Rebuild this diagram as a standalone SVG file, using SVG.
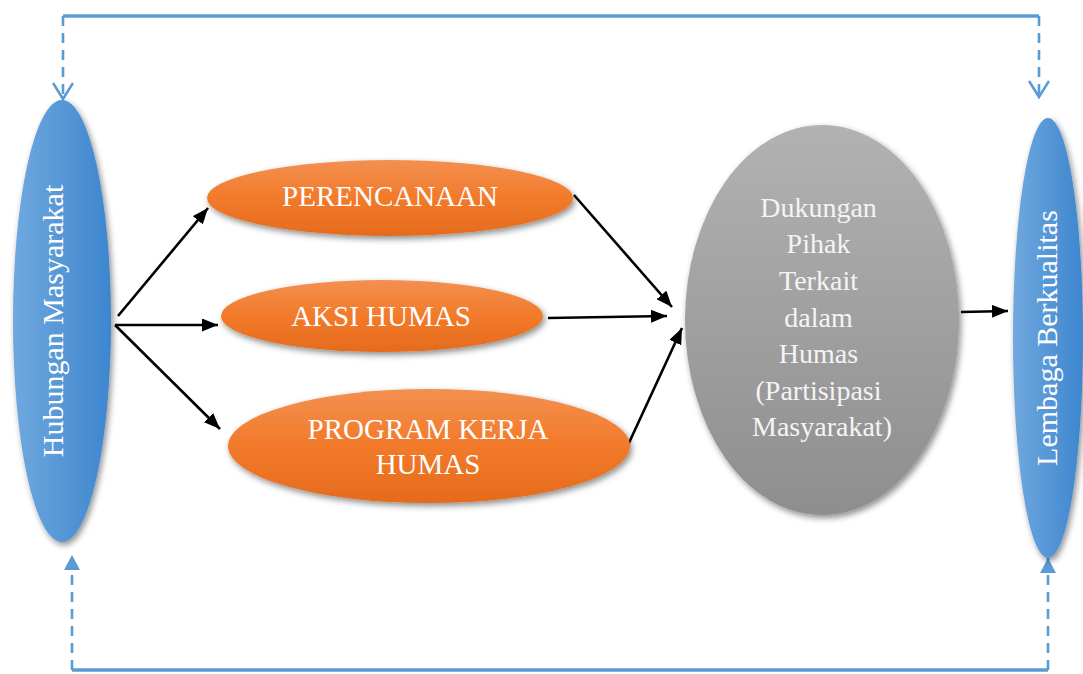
<svg xmlns="http://www.w3.org/2000/svg" width="1083" height="674" viewBox="0 0 1083 674">
<defs>
<style>
.lbl{font-family:"Liberation Serif","Times New Roman",serif;fill:#ffffff;}
.o{font-size:29px;}
.g{font-size:28px;fill:#f4f4f4;}
.v{font-size:30px;}
.arr{stroke:#000;stroke-width:2.6;fill:none;}
.bl{stroke:#5b9bd5;stroke-width:3.5;fill:none;}
.bd{stroke:#5b9bd5;stroke-width:2.6;fill:none;stroke-dasharray:10,7;}
</style>
<linearGradient id="gBlue" x1="0" y1="0" x2="1" y2="0">
<stop offset="0" stop-color="#70a8de"/>
<stop offset="1" stop-color="#3d86cf"/>
</linearGradient>
<linearGradient id="gOrange" x1="0" y1="0" x2="0" y2="1">
<stop offset="0" stop-color="#f39050"/>
<stop offset="0.5" stop-color="#f27a2a"/>
<stop offset="1" stop-color="#e56b1d"/>
</linearGradient>
<linearGradient id="gGray" x1="0" y1="0" x2="0" y2="1">
<stop offset="0" stop-color="#b2b2b2"/>
<stop offset="1" stop-color="#8e8e8e"/>
</linearGradient>
<filter id="sh" x="-20%" y="-20%" width="140%" height="140%">
<feDropShadow dx="2" dy="3" stdDeviation="3" flood-color="#000" flood-opacity="0.45"/>
</filter>
<marker id="ah" markerWidth="16" markerHeight="13" refX="16" refY="6.5" orient="auto" markerUnits="userSpaceOnUse">
<path d="M0,0 L16,6.5 L0,13 Z" fill="#000"/>
</marker>
<marker id="open" markerWidth="20" markerHeight="22" refX="18" refY="11" orient="auto" markerUnits="userSpaceOnUse">
<path d="M2,1 L18,11 L2,21" fill="none" stroke="#5b9bd5" stroke-width="2.6"/>
</marker>
<marker id="fill" markerWidth="15" markerHeight="16" refX="15" refY="8" orient="auto" markerUnits="userSpaceOnUse">
<path d="M0,0 L15,8 L0,16 Z" fill="#5b9bd5"/>
</marker>
</defs>
<rect width="1083" height="674" fill="#fff"/>

<g id="connectors">
<path class="bl" d="M63,16 L1039,16"/>
<path class="bd" d="M63,16 L63,99" marker-end="url(#open)"/>
<path class="bd" d="M1039,16 L1039,97" marker-end="url(#open)"/>
<path class="bl" d="M72,670 L1048,670"/>
<path class="bd" d="M72,670 L72,555" marker-end="url(#fill)"/>
<path class="bd" d="M1048,670 L1048,558" marker-end="url(#fill)"/>
<path class="arr" d="M118,316 L208,208" marker-end="url(#ah)"/>
<path class="arr" d="M115,325 L218,325" marker-end="url(#ah)"/>
<path class="arr" d="M115,325 L220,429" marker-end="url(#ah)"/>
<path class="arr" d="M574,195 L672,307" marker-end="url(#ah)"/>
<path class="arr" d="M548,318 L667,316" marker-end="url(#ah)"/>
<path class="arr" d="M628,445 L682,328" marker-end="url(#ah)"/>
<path class="arr" d="M961,312 L1008,311" marker-end="url(#ah)"/>
</g>

<g id="hubungan">
<ellipse cx="62" cy="321" rx="49" ry="221" fill="url(#gBlue)" filter="url(#sh)"/>
<text class="lbl v" x="63" y="321" text-anchor="middle" transform="rotate(-90 63 321)">Hubungan Masyarakat</text>
</g>

<g id="perencanaan">
<ellipse cx="390" cy="198" rx="183" ry="38" fill="url(#gOrange)" filter="url(#sh)"/>
<text class="lbl o" x="390" y="206" text-anchor="middle">PERENCANAAN</text>
</g>

<g id="aksi">
<ellipse cx="382" cy="316" rx="161" ry="36" fill="url(#gOrange)" filter="url(#sh)"/>
<text class="lbl o" x="381" y="326" text-anchor="middle">AKSI HUMAS</text>
</g>

<g id="program">
<ellipse cx="429" cy="446" rx="201" ry="57" fill="url(#gOrange)" filter="url(#sh)"/>
<text class="lbl o" x="428" y="439" text-anchor="middle">PROGRAM KERJA</text>
<text class="lbl o" x="428" y="474" text-anchor="middle">HUMAS</text>
</g>

<g id="dukungan">
<ellipse cx="822" cy="320" rx="137" ry="195" fill="url(#gGray)" filter="url(#sh)"/>
<text class="lbl g" text-anchor="middle">
<tspan x="822" y="217">Dukungan</tspan>
<tspan x="822" y="253">Pihak</tspan>
<tspan x="822" y="290">Terkait</tspan>
<tspan x="822" y="327">dalam</tspan>
<tspan x="822" y="363">Humas</tspan>
<tspan x="822" y="400">(Partisipasi</tspan>
<tspan x="822" y="436">Masyarakat)</tspan>
</text>
</g>

<g id="lembaga">
<ellipse cx="1048" cy="338" rx="35" ry="220" fill="url(#gBlue)" filter="url(#sh)"/>
<text class="lbl v" x="1057" y="338" text-anchor="middle" transform="rotate(-90 1057 338)">Lembaga Berkualitas</text>
</g>
</svg>
